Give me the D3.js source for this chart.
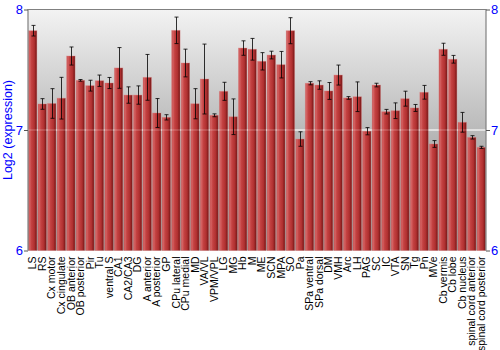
<!DOCTYPE html>
<html><head><meta charset="utf-8">
<script src="https://cdn.jsdelivr.net/npm/d3@7"></script>
<style>html,body{margin:0;padding:0;background:#fff}svg{display:block}</style>
</head><body>
<script>
const categories = ["LS","RS","Cx motor","Cx cingulate","OB anterior","OB posterior","Pir","Tu","ventral S","CA1","CA2/CA3","DG","A anterior","A posterior","GP","CPu lateral","CPu medial","MD","VA/VL","VPM/VPL","LG","MG","Hb","M","ME","SCN","MPA","SO","Pa","SPa ventral","SPa dorsal","DM","VMH","Arc","LH","PAG","SC","IC","VTA","SN","Tg","Pn","MVe","Cb vermis","Cb lobe","Cb nucleus","spinal cord anterior","spinal cord posterior"];
const values = [7.824,7.216,7.22,7.264,7.614,7.412,7.368,7.409,7.390,7.515,7.290,7.290,7.437,7.141,7.105,7.827,7.556,7.218,7.423,7.122,7.321,7.110,7.680,7.670,7.570,7.622,7.542,7.824,6.925,7.388,7.373,7.324,7.456,7.266,7.276,6.99,7.373,7.152,7.160,7.260,7.183,7.313,6.884,7.670,7.587,7.064,6.939,6.856];
const errors = [0.044,0.044,0.123,0.173,0.075,0.007,0.045,0.047,0.046,0.169,0.068,0.076,0.19,0.12,0.022,0.11,0.115,0.125,0.29,0.012,0.075,0.148,0.06,0.09,0.072,0.032,0.11,0.108,0.06,0.013,0.035,0.07,0.083,0.011,0.123,0.03,0.015,0.019,0.065,0.062,0.029,0.057,0.028,0.05,0.032,0.082,0.014,0.009];
const yTicks = [6,7,8];
const yDomain = [6,8];
const yTitle = "Log2 (expression)";

const W=500,H=350, L=28, R=486, T=9.5, B=250.5;
const svg=d3.select("body").append("svg").attr("width",W).attr("height",H);
const defs=svg.append("defs");
const bg=defs.append("linearGradient").attr("id","bg").attr("x1",0).attr("y1",0).attr("x2",0).attr("y2",1);
bg.append("stop").attr("offset","0%").attr("stop-color","#f3f3f3");
bg.append("stop").attr("offset","55%").attr("stop-color","#b4b4b4");
bg.append("stop").attr("offset","100%").attr("stop-color","#909090");
const bar=defs.append("linearGradient").attr("id","bar").attr("x1",0).attr("y1",0).attr("x2",1).attr("y2",0);
[["0%","#c24a4a"],["15%","#d46262"],["35%","#c44242"],["70%","#b03030"],["100%","#701414"]].forEach(s=>bar.append("stop").attr("offset",s[0]).attr("stop-color",s[1]));

const x=d3.scaleBand().domain(categories).range([L,R]).paddingInner(0.12).paddingOuter(0.05);
const y=d3.scaleLinear().domain(yDomain).range([B,T]);

svg.append("rect").attr("x",L).attr("y",T).attr("width",R-L).attr("height",B-T).attr("fill","url(#bg)");
svg.append("g").selectAll("line").data(yTicks.filter(t=>t>yDomain[0]&&t<yDomain[1])).join("line")
  .attr("x1",L).attr("x2",R).attr("y1",d=>y(d)).attr("y2",d=>y(d)).attr("stroke","#fff").attr("stroke-width",1);

const data=categories.map((c,i)=>({c,v:values[i],e:errors[i]}));
svg.append("g").selectAll("rect").data(data).join("rect")
  .attr("x",d=>x(d.c)).attr("y",d=>y(d.v)).attr("width",x.bandwidth()).attr("height",d=>B-y(d.v))
  .attr("fill","url(#bar)").attr("stroke","#e08080").attr("stroke-opacity",0.45).attr("stroke-width",0.8);

svg.append("g").selectAll("line").data(yTicks.filter(t=>t>yDomain[0]&&t<yDomain[1])).join("line")
  .attr("x1",L).attr("x2",R).attr("y1",d=>y(d)).attr("y2",d=>y(d)).attr("stroke","#fff").attr("stroke-opacity",0.3);

const eg=svg.append("g").attr("stroke","#000").attr("stroke-opacity",0.8).attr("stroke-width",1);
data.forEach(d=>{
  const cx=Math.round(x(d.c)+x.bandwidth()/2)+0.5;
  const y1=y(d.v+d.e), y2=y(d.v-d.e);
  eg.append("line").attr("x1",cx).attr("x2",cx).attr("y1",y1).attr("y2",y2);
  eg.append("line").attr("x1",cx-2).attr("x2",cx+2).attr("y1",y1).attr("y2",y1);
  eg.append("line").attr("x1",cx-2).attr("x2",cx+2).attr("y1",y2).attr("y2",y2);
});

// frame
svg.append("path").attr("d",`M${L},${B}V${T}H${R}V${B}`).attr("fill","none").attr("stroke","#808080").attr("stroke-width",1.2);

const fontFam="Liberation Sans, Arial, sans-serif";
const ya=d3.axisLeft(y).tickValues(yTicks).tickSize(4).tickFormat(d3.format("d"));
const yl=svg.append("g").attr("transform",`translate(${L},0)`).call(ya);
const yr=svg.append("g").attr("transform",`translate(${R},0)`).call(d3.axisRight(y).tickValues(yTicks).tickSize(4).tickFormat(d3.format("d")));
[yl,yr].forEach(g=>{g.select(".domain").remove();g.selectAll("line").attr("stroke","#555");
  g.selectAll("text").attr("fill","#0000ff").attr("font-family",fontFam).attr("font-size",13);});
yl.selectAll("text").attr("x",-5);
yr.selectAll("text").attr("x",5);

svg.append("text").attr("transform",`translate(12,${(T+B)/2}) rotate(-90)`).attr("text-anchor","middle")
  .attr("font-family",fontFam).attr("font-size",12.5).attr("fill","#0000ff").text(yTitle);

svg.append("g").selectAll("text").data(categories).join("text")
  .attr("transform",d=>`translate(${x(d)+x.bandwidth()/2},${B+6}) rotate(-90)`)
  .attr("text-anchor","end").attr("dy","0.35em").attr("font-family",fontFam).attr("font-size",10.5).attr("fill","#000").text(d=>d);
</script>
</body></html>
